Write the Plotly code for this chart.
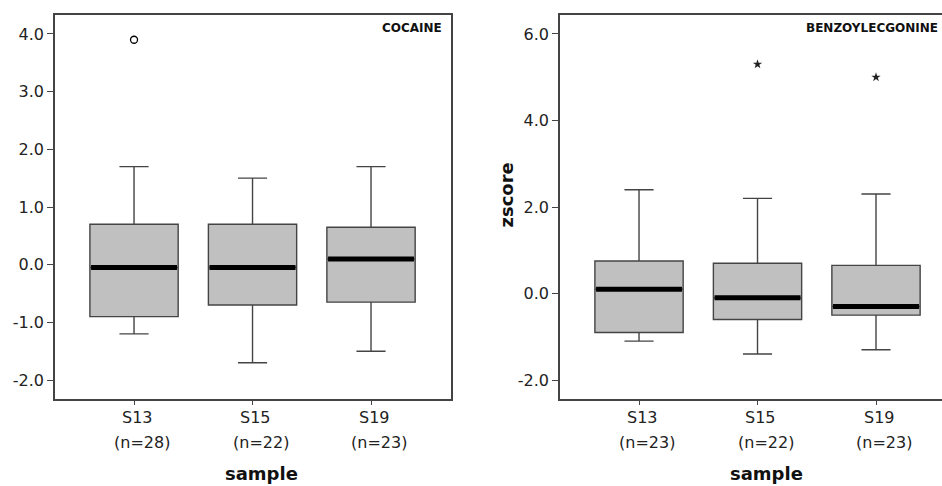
import plotly.graph_objects as go

# ---------------- data ----------------
categories = ["S13", "S15", "S19"]
coc_n = ["(n=28)", "(n=22)", "(n=23)"]
coc_upper = [1.7, 1.5, 1.7]
coc_q3 = [0.7, 0.7, 0.65]
coc_median = [-0.05, -0.05, 0.1]
coc_q1 = [-0.9, -0.7, -0.65]
coc_lower = [-1.2, -1.7, -1.5]
coc_out_cat = [0]
coc_out_val = [3.9]

bz_n = ["(n=23)", "(n=22)", "(n=23)"]
bz_upper = [2.4, 2.2, 2.3]
bz_q3 = [0.75, 0.7, 0.65]
bz_median = [0.1, -0.1, -0.3]
bz_q1 = [-0.9, -0.6, -0.5]
bz_lower = [-1.1, -1.4, -1.3]
bz_out_cat = [1, 2]
bz_out_val = [5.3, 5.0]

coc_tickvals = [-2, -1, 0, 1, 2, 3, 4]
coc_ticktext = ["-2.0", "-1.0", "0.0", "1.0", "2.0", "3.0", "4.0"]
bz_tickvals = [-2, 0, 2, 4, 6]
bz_ticktext = ["-2.0", "0.0", "2.0", "4.0", "6.0"]

# ---------------- style ----------------
W, H = 942, 486
FONT = "DejaVu Sans, Arial, sans-serif"
BOX_FILL = "#c0c0c0"
EDGE = "#444444"
TXT = "#222222"
BOXW = 0.745

idx = list(range(len(categories)))

fig = go.Figure()


def add_panel(xa, ya, q1, med, q3, lo, hi, out_x, out_v, marker):
    fig.add_trace(go.Box(
        x=idx, q1=q1, median=med, q3=q3, lowerfence=lo, upperfence=hi,
        width=BOXW, whiskerwidth=0.33, boxpoints=False,
        fillcolor=BOX_FILL, line=dict(color=EDGE, width=1.4),
        xaxis=xa, yaxis=ya, showlegend=False, hoverinfo="skip"))
    mx, my = [], []
    for i, m in zip(idx, med):
        mx += [i - BOXW / 2 + 0.01, i + BOXW / 2 - 0.01, None]
        my += [m, m, None]
    fig.add_trace(go.Scatter(
        x=mx, y=my, mode="lines", line=dict(color="black", width=5),
        xaxis=xa, yaxis=ya, showlegend=False, hoverinfo="skip"))
    fig.add_trace(go.Scatter(
        x=out_x, y=out_v, mode="markers", marker=marker,
        xaxis=xa, yaxis=ya, showlegend=False, hoverinfo="skip"))


add_panel("x", "y", coc_q1, coc_median, coc_q3, coc_lower, coc_upper,
          coc_out_cat, coc_out_val,
          dict(symbol="circle-open", size=7, color="black",
               line=dict(color="black", width=1.3)))
add_panel("x2", "y2", bz_q1, bz_median, bz_q3, bz_lower, bz_upper,
          bz_out_cat, bz_out_val,
          dict(symbol="star", size=7, color="#222",
               line=dict(color="#222", width=0)))

ydom = [1 - 399 / H, 1 - 15 / H]
axis_common = dict(showgrid=False, zeroline=False, linecolor=EDGE,
                   linewidth=1.5, tickcolor=EDGE, ticks="outside",
                   tickfont=dict(family=FONT, size=16, color=TXT))

fig.update_layout(
    width=W, height=H, margin=dict(l=0, r=0, t=0, b=0),
    paper_bgcolor="white", plot_bgcolor="white", showlegend=False,
    hovermode=False,
    xaxis=dict(domain=[55 / W, 451 / W], range=[-0.667, 2.675],
               showline=True, mirror=True, tickvals=idx,
               showticklabels=False, ticklen=4, **axis_common),
    yaxis=dict(domain=ydom, range=[-2.329, 4.329], showline=True,
               mirror=True, tickvals=coc_tickvals, ticktext=coc_ticktext,
               ticklen=6, **axis_common),
    xaxis2=dict(domain=[560 / W, 1.0], range=[-0.667, 2.557], anchor="y2",
                showline=True, mirror=True, tickvals=idx,
                showticklabels=False, ticklen=4, **axis_common),
    yaxis2=dict(domain=ydom, range=[-2.439, 6.439], anchor="x2",
                showline=True, mirror=False, tickvals=bz_tickvals,
                ticktext=bz_ticktext, ticklen=6, **axis_common),
)

ann = []
for xa, labels in (("x", coc_n), ("x2", bz_n)):
    for i, (c, n) in zip(idx, zip(categories, labels)):
        ann.append(dict(x=i, xref=xa, y=1 - 417.5 / H, yref="paper",
                        text=c, showarrow=False, xshift=3,
                        xanchor="center", yanchor="middle",
                        font=dict(family=FONT, size=16, color=TXT)))
        ann.append(dict(x=i, xref=xa, y=1 - 442 / H, yref="paper",
                        text=n, showarrow=False, xshift=8,
                        xanchor="center", yanchor="middle",
                        font=dict(family=FONT, size=16, color=TXT)))

for xc in (261, 766):
    ann.append(dict(x=xc / W, xref="paper", y=1 - 473 / H, yref="paper",
                    text="<b>sample</b>", showarrow=False,
                    xanchor="center", yanchor="middle",
                    font=dict(family=FONT, size=18, color="#111")))

ann.append(dict(x=506 / W, xref="paper", y=1 - 195.5 / H, yref="paper",
                text="<b>zscore</b>", showarrow=False, textangle=-90,
                xanchor="center", yanchor="middle",
                font=dict(family=FONT, size=18, color="#111")))

ann.append(dict(x=443.5 / W, xref="paper", y=1 - 28 / H, yref="paper",
                text="<b>COCAINE</b>", showarrow=False,
                xanchor="right", yanchor="middle",
                font=dict(family=FONT, size=12, color="#111")))
ann.append(dict(x=940 / W, xref="paper", y=1 - 28 / H, yref="paper",
                text="<b>BENZOYLECGONINE</b>", showarrow=False,
                xanchor="right", yanchor="middle",
                font=dict(family=FONT, size=12, color="#111")))

fig.update_layout(annotations=ann)
fig.write_html("out.html")
